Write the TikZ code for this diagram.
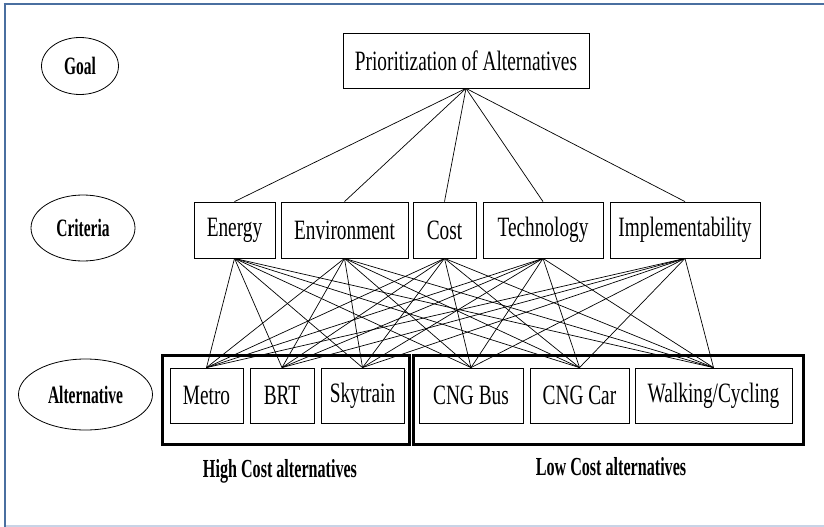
\documentclass[tikz,border=0pt]{standalone}
\usepackage{fontspec}
\setmainfont[FakeStretch=0.69]{Liberation Serif}
\newfontfamily\labfont[FakeStretch=0.62]{Liberation Serif}
\usetikzlibrary{shapes.geometric}
\definecolor{frameblue}{HTML}{4A6FA0}
\definecolor{framelight}{HTML}{C8D3E6}
\tikzset{
  box/.style={draw, line width=0.8pt, inner sep=0pt, minimum height=56pt,
    font=\fontsize{28}{28}\selectfont},
  lvl/.style={draw, ellipse, line width=0.8pt, inner sep=0pt,
    font=\labfont\bfseries\fontsize{25}{25}\selectfont},
  grp/.style={draw, line width=3pt, inner sep=0pt},
  grplab/.style={font=\labfont\bfseries\fontsize{26}{26}\selectfont, inner sep=0pt, anchor=base},
  link/.style={line width=0.7pt}
}
\begin{document}
\begin{tikzpicture}[x=1pt,y=-1pt]
\useasboundingbox (0,0) rectangle (824,527);
% frame
\draw[framelight, line width=1.5pt] (6,526) -- (824,526);
\draw[frameblue, line width=2.5pt] (3.5,4) -- (824,4);
\draw[frameblue, line width=2.5pt] (5,2.8) -- (5,527);

% level labels
\node[lvl, minimum width=77pt, minimum height=57pt] (lgoal) at (80,66) {Goal};
\node[lvl, minimum width=104pt, minimum height=66pt] (lcrit) at (83,228) {Criteria};
\node[lvl, minimum width=134pt, minimum height=71pt] (lalt) at (85.5,394.5) {Alternative};

% goal
\node[box, minimum width=246pt, minimum height=55pt] (goal) at (466,60.5) {Prioritization of Alternatives};

% criteria
\node[box, minimum width=81pt] (c1) at (234.5,230) {Energy};
\node[box, minimum width=127pt] (c2) at (344.5,230) {Environment};
\node[box, minimum width=63pt] (c3) at (444.5,230) {Cost};
\node[box, minimum width=120pt] (c4) at (543,230) {Technology};
\node[box, minimum width=150pt] (c5) at (685,230) {Implementability};

% alternatives
\node[box, minimum width=73pt, minimum height=55pt] (a1) at (206.5,395.5) {Metro};
\node[box, minimum width=64pt, minimum height=55pt] (a2) at (282,395.5) {BRT};
\node[box, minimum width=83pt, minimum height=55pt] (a3) at (362.5,395.5) {Skytrain};
\node[box, minimum width=104pt, minimum height=55pt] (a4) at (471,395.5) {CNG Bus};
\node[box, minimum width=99pt, minimum height=55pt] (a5) at (579.5,395.5) {CNG Car};
\node[box, minimum width=157pt, minimum height=55pt] (a6) at (713.5,395.5) {Walking/Cycling};

% groups
\node[grp, minimum width=247pt, minimum height=89pt] (hgrp) at (285.5,399.5) {};
\node[grp, minimum width=390pt, minimum height=89pt] (lgrp) at (608.5,399.5) {};
\node[grplab] (hlab) at (280,477) {High Cost alternatives};
\node[grplab] (llab) at (611,475) {Low Cost alternatives};

% links goal -> criteria
\foreach \c in {c1,c2,c3,c4,c5}
  \draw[link] (goal.south) -- (\c.north);
% links criteria -> alternatives
\foreach \c in {c1,c2,c3,c4,c5}
  \foreach \a in {a1,a2,a3,a4,a5,a6}
    \draw[link] (\c.south) -- (\a.north);
\end{tikzpicture}
\end{document}
